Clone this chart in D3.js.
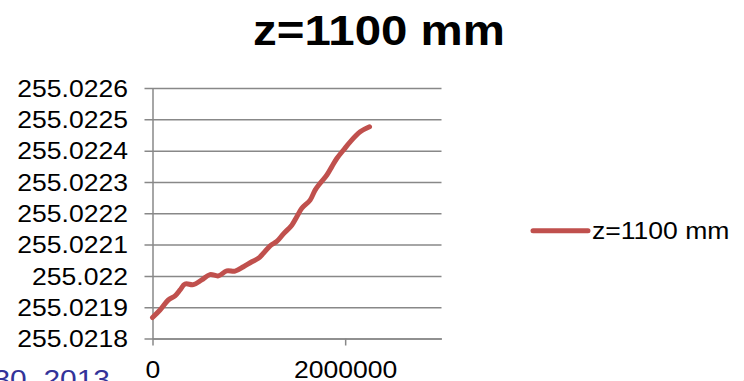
<!DOCTYPE html>
<html>
<head>
<meta charset="utf-8">
<script src="https://cdn.jsdelivr.net/npm/d3@7"></script>
<style>
  html, body { margin: 0; padding: 0; background: #fff; overflow: hidden; }
  svg { display: block; }
</style>
</head>
<body>
<svg id="chart" width="744" height="381"></svg>
<script>
// Series: displacement at z=1100 mm versus load
const chartTitle = "z=1100 mm";
const seriesName = "z=1100 mm";
const xValues = [0, 78000, 164000, 234000, 286000, 338000, 424000, 511000, 597000, 684000,
  771000, 857000, 944000, 1031000, 1099000, 1151000, 1221000, 1290000, 1359000, 1446000,
  1498000, 1550000, 1636000, 1688000, 1740000, 1810000, 1862000, 1913000, 1983000, 2052000,
  2156000, 2253000];
const yValues = [255.021867, 255.021891, 255.021923, 255.021936, 255.021955, 255.021974,
  255.021972, 255.021987, 255.022004, 255.022000, 255.022016, 255.022015, 255.022029,
  255.022045, 255.022056, 255.022072, 255.022096, 255.022110, 255.022134, 255.022162,
  255.022189, 255.022216, 255.022242, 255.022274, 255.022296, 255.022322, 255.022349,
  255.022375, 255.022402, 255.022428, 255.022460, 255.022476];
const yTickValues = [255.0218, 255.0219, 255.0220, 255.0221, 255.0222, 255.0223, 255.0224, 255.0225, 255.0226];
const yTickLabels = ["255.0218", "255.0219", "255.022", "255.0221", "255.0222", "255.0223", "255.0224", "255.0225", "255.0226"];
const xTickValues = [0, 2000000];
const xTickLabels = ["0", "2000000"];
const footerLeft = "30, 2013";
const footerRight = "4";

const FONT = "'Liberation Sans', Arial, Helvetica, sans-serif";
const SX = 1.13;                 // horizontal stretch of the lettering
const GRID = "#888888";
const LINE = "#c0504d";

const plot = { left: 152.5, right: 441.5, top: 88, bottom: 338.5 };

const x = d3.scaleLinear().domain([0, 3000000]).range([plot.left, plot.right]);
const y = d3.scaleLinear().domain([255.0218, 255.0226]).range([plot.bottom, plot.top]);

const svg = d3.select("#chart");
svg.append("rect").attr("width", 744).attr("height", 381).attr("fill", "#fff");

// Title
svg.append("g").attr("transform", "translate(379,45)")
  .append("text")
  .attr("text-anchor", "middle")
  .attr("transform", `scale(${SX},1)`)
  .attr("font-family", FONT).attr("font-weight", "bold").attr("font-size", 42)
  .attr("fill", "#000")
  .text(chartTitle);

// Value axis with horizontal gridlines
const yAxis = svg.append("g")
  .attr("transform", `translate(${plot.left},0)`)
  .call(d3.axisLeft(y)
    .tickValues(yTickValues)
    .tickSizeInner(-(plot.right - plot.left))
    .tickSizeOuter(0)
    .tickFormat((d, i) => yTickLabels[i]));
yAxis.select(".domain").attr("stroke", GRID).attr("stroke-width", 1.5);
yAxis.selectAll(".tick line")
  .attr("x1", -8).attr("x2", plot.right - plot.left)
  .attr("stroke", GRID).attr("stroke-width", 1.5);
yAxis.selectAll(".tick text")
  .attr("x", null).attr("dy", null)
  .attr("transform", `translate(-24.5,8.3) scale(${SX},1)`)
  .attr("text-anchor", "end")
  .attr("font-family", FONT).attr("font-size", 23.5)
  .attr("fill", "#000");

// Horizontal axis
const xAxis = svg.append("g")
  .attr("transform", `translate(0,${plot.bottom})`)
  .call(d3.axisBottom(x)
    .tickValues(xTickValues)
    .tickSizeInner(7)
    .tickSizeOuter(0)
    .tickFormat((d, i) => xTickLabels[i]));
xAxis.select(".domain").attr("stroke", GRID).attr("stroke-width", 1.5);
xAxis.selectAll(".tick line").attr("stroke", GRID).attr("stroke-width", 1.5);
xAxis.selectAll(".tick text")
  .attr("y", null).attr("dy", null)
  .attr("transform", `translate(0,39.5) scale(${SX},1)`)
  .attr("text-anchor", "middle")
  .attr("font-family", FONT).attr("font-size", 23.5)
  .attr("fill", "#000");

// Series line
const pts = xValues.map((v, i) => [v, yValues[i]]);
svg.append("path")
  .datum(pts)
  .attr("fill", "none")
  .attr("stroke", LINE)
  .attr("stroke-width", 5)
  .attr("stroke-linecap", "round")
  .attr("stroke-linejoin", "round")
  .attr("d", d3.line()
    .x(d => x(d[0]))
    .y(d => y(d[1]))
    .curve(d3.curveCatmullRom.alpha(0.5)));

// Legend
const legend = svg.append("g").attr("transform", "translate(533,230.7)");
legend.append("line")
  .attr("x1", 0).attr("x2", 55).attr("y1", 0).attr("y2", 0)
  .attr("stroke", LINE).attr("stroke-width", 5).attr("stroke-linecap", "round");
legend.append("g").attr("transform", "translate(59,8.5)")
  .append("text")
  .attr("transform", `scale(${SX},1)`)
  .attr("font-family", FONT).attr("font-size", 23.5)
  .attr("fill", "#000")
  .text(seriesName);

// Footer text along the bottom edge
svg.append("g").attr("transform", "translate(110,387.5)")
  .append("text")
  .attr("text-anchor", "end")
  .attr("transform", `scale(${SX},1)`)
  .attr("font-family", FONT).attr("font-size", 26.5)
  .attr("fill", "#333399")
  .text(footerLeft);
svg.append("g").attr("transform", "translate(739,392)")
  .append("text")
  .attr("transform", `scale(${SX},1)`)
  .attr("font-family", FONT).attr("font-size", 26.5)
  .attr("fill", "#333399")
  .text(footerRight);
</script>
</body>
</html>
